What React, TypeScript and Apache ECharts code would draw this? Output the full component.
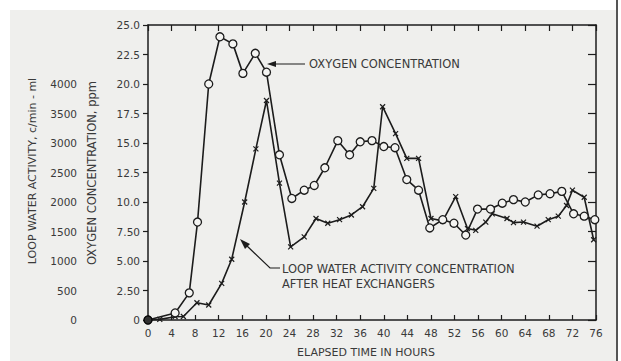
import React, { useEffect, useRef } from "react";
import * as echarts from "echarts";

const hoursO = [0, 4.6, 7, 8.4, 10.3, 12.2, 14.4, 16.1, 18.2, 20.1, 22.3, 24.4, 26.5, 28.2, 30, 32.2, 34.2, 36, 38, 40, 41.9, 43.9, 45.9, 47.8, 50, 51.9, 53.9, 55.9, 58.1, 60.1, 62, 64, 66.2, 68.2, 70.2, 72.2, 74, 75.8];
const oxygen = [0, 0.6, 2.3, 8.3, 20.0, 24.0, 23.4, 20.9, 22.6, 21.0, 14.0, 10.3, 11.0, 11.4, 12.9, 15.2, 14.0, 15.1, 15.2, 14.7, 14.6, 11.9, 11.0, 7.8, 8.5, 8.2, 7.2, 9.4, 9.4, 9.9, 10.2, 10.0, 10.6, 10.7, 10.9, 9.0, 8.8, 8.5];

const hoursA = [0, 2, 4.6, 6, 8.3, 10.3, 12.5, 14.2, 16.4, 18.3, 20.1, 22.3, 24.2, 26.5, 28.5, 30.5, 32.5, 34.5, 36.4, 38.3, 39.8, 42, 43.9, 45.9, 48, 50, 52.2, 54.2, 55.6, 57.3, 58.4, 60.9, 62, 63.7, 66, 67.9, 69.6, 71, 72, 74, 75.6];
const activity = [0, 10, 56, 60, 293, 254, 620, 1030, 2000, 2900, 3720, 2320, 1240, 1410, 1720, 1640, 1700, 1780, 1920, 2230, 3615, 3160, 2740, 2740, 1720, 1680, 2090, 1550, 1520, 1660, 1800, 1720, 1650, 1660, 1590, 1700, 1760, 1940, 2200, 2080, 1360];

const oxygenTickLabels: Record<string, string> = {
  "0": "0", "2.5": "2.50", "5": "5.00", "7.5": "7.50", "10": "10.0", "12.5": "12.5",
  "15": "15.0", "17.5": "17.5", "20": "20.0", "22.5": "22.5", "25": "25.0",
};
const activityMaxLabel = 4000;

const FONT = "DejaVu Sans";
const INK = "#1c1c1c";
const TXT = "#3a3a3a";

export default function App() {
  const ref = useRef<HTMLDivElement>(null);
  useEffect(() => {
    if (!ref.current) return;
    const chart = echarts.init(ref.current, undefined, { renderer: "svg" });
    const crossPath = "path://M0,0L10,10M10,0L0,10";
    const option: any = {
      animation: false,
      backgroundColor: "#ffffff",
      textStyle: { fontFamily: FONT },
      grid: { left: 148, right: 25, top: 25, bottom: 41 },
      xAxis: [
        {
          type: "value", min: 0, max: 76, interval: 4, position: "bottom",
          axisLine: { show: true, onZero: false, lineStyle: { color: INK, width: 1.5 } },
          axisTick: { show: true, inside: true, length: 5, lineStyle: { color: INK, width: 1.2 } },
          axisLabel: { color: TXT, fontSize: 10.5, margin: 7, fontFamily: FONT },
          splitLine: { show: false },
        },
        {
          type: "value", min: 0, max: 76, interval: 4, position: "top",
          axisLine: { show: true, onZero: false, lineStyle: { color: INK, width: 1.5 } },
          axisTick: { show: true, inside: true, length: 6, lineStyle: { color: INK, width: 1.2 } },
          axisLabel: { show: false },
          splitLine: { show: false },
        },
      ],
      yAxis: [
        {
          type: "value", min: 0, max: 25, interval: 2.5, position: "left",
          axisLine: { show: true, onZero: false, lineStyle: { color: INK, width: 1.5 } },
          axisTick: { show: true, inside: false, length: 5, lineStyle: { color: INK, width: 1.2 } },
          axisLabel: {
            color: TXT, fontSize: 10.5, margin: 8, fontFamily: FONT,
            formatter: (v: number) => oxygenTickLabels[String(v)] ?? String(v),
          },
          splitLine: { show: false },
        },
        {
          type: "value", min: 0, max: 5000, interval: 500, position: "left", offset: 71,
          axisLine: { show: false },
          axisTick: { show: false },
          axisLabel: {
            color: TXT, fontSize: 10.5, margin: 0, fontFamily: FONT,
            formatter: (v: number) => (v <= activityMaxLabel ? String(v) : ""),
          },
          splitLine: { show: false },
        },
        {
          type: "value", min: 0, max: 25, interval: 2.5, position: "right",
          axisLine: { show: true, onZero: false, lineStyle: { color: INK, width: 1.5 } },
          axisTick: { show: true, inside: true, length: 8, lineStyle: { color: INK, width: 1.2 } },
          axisLabel: { show: false },
          splitLine: { show: false },
        },
      ],
      series: [
        {
          name: "Loop water activity", type: "line", yAxisIndex: 1,
          data: hoursA.map((h, i) => [h, activity[i]]),
          symbol: crossPath, symbolSize: 5, showAllSymbol: true,
          lineStyle: { color: INK, width: 1.6 },
          itemStyle: { color: INK, borderColor: INK, borderWidth: 1.2 },
          z: 3,
        },
        {
          name: "Oxygen concentration", type: "line", yAxisIndex: 0,
          data: hoursO.map((h, i) => [h, oxygen[i]]),
          symbol: "circle", symbolSize: 8, showAllSymbol: true,
          lineStyle: { color: INK, width: 1.6 },
          itemStyle: { color: "#f4f4f2", borderColor: INK, borderWidth: 1.3 },
          z: 4,
        },
        {
          name: "start", type: "scatter", yAxisIndex: 0,
          data: [[hoursO[0], oxygen[0]]],
          symbol: "circle", symbolSize: 9,
          itemStyle: { color: "#000" },
          z: 5,
        },
      ],
      graphic: [
        { type: "rect", silent: true, z: -10, shape: { x: 10, y: 10, width: 606, height: 351 }, style: { fill: "#efefed" } },
        { type: "line", silent: true, shape: { x1: 617, y1: 0, x2: 617, y2: 361 }, style: { stroke: "#555", lineWidth: 2 } },
        { type: "text", x: 366, y: 352, style: { text: "ELAPSED TIME IN HOURS", fontSize: 11, fontFamily: FONT, fill: TXT, align: "center", verticalAlign: "middle" } },
        { type: "text", x: 32, y: 171, rotation: Math.PI / 2, style: { text: "LOOP WATER ACTIVITY, c/min - ml", fontSize: 11, fontFamily: FONT, fill: TXT, align: "center", verticalAlign: "middle" } },
        { type: "text", x: 92, y: 173, rotation: Math.PI / 2, style: { text: "OXYGEN CONCENTRATION, ppm", fontSize: 11.5, fontFamily: FONT, fill: TXT, align: "center", verticalAlign: "middle" } },
        { type: "text", x: 309, y: 64, style: { text: "OXYGEN CONCENTRATION", fontSize: 11.5, fontFamily: FONT, fill: TXT, verticalAlign: "middle" } },
        { type: "line", shape: { x1: 272, y1: 64, x2: 305, y2: 64 }, style: { stroke: INK, lineWidth: 1.2 } },
        { type: "polygon", shape: { points: [[267, 64], [276, 61], [276, 67]] }, style: { fill: INK } },
        { type: "text", x: 282, y: 269, style: { text: "LOOP WATER ACTIVITY CONCENTRATION", fontSize: 11.5, fontFamily: FONT, fill: TXT, verticalAlign: "middle" } },
        { type: "text", x: 282, y: 284, style: { text: "AFTER HEAT EXCHANGERS", fontSize: 11.5, fontFamily: FONT, fill: TXT, verticalAlign: "middle" } },
        { type: "polyline", shape: { points: [[246, 245], [270, 268], [280, 268]] }, style: { stroke: INK, lineWidth: 1.2, fill: "none" } },
        { type: "polygon", shape: { points: [[240, 239], [250, 244], [245, 249]] }, style: { fill: INK } },
      ],
    };
    chart.setOption(option);
    return () => chart.dispose();
  }, []);
  return (
    <div
      ref={ref}
      style={{ position: "fixed", left: 0, top: 0, width: 621, height: 361 }}
    />
  );
}
